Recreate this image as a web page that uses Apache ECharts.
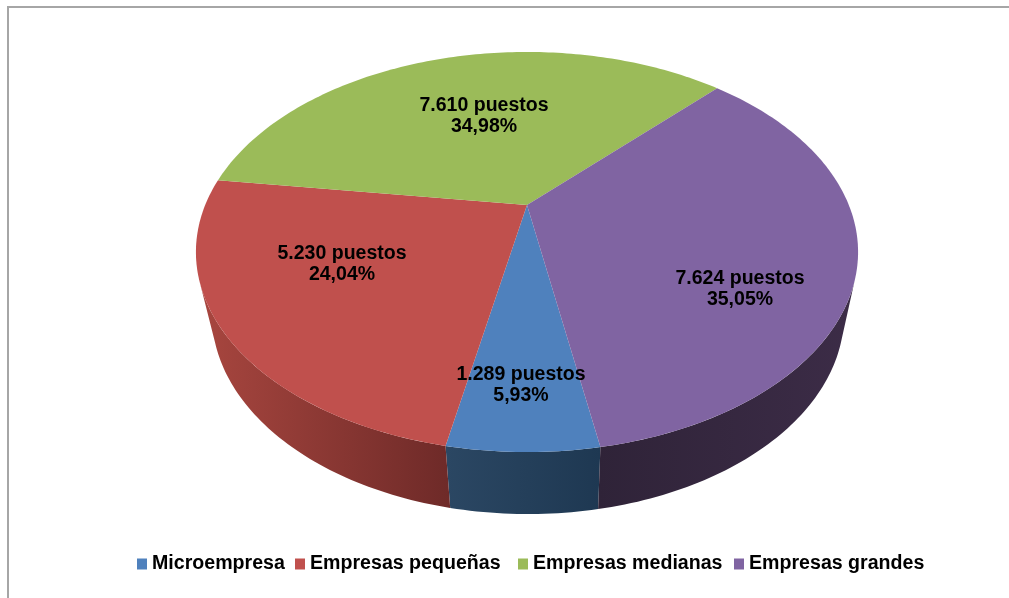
<!DOCTYPE html>
<html>
<head>
<meta charset="utf-8">
<style>
  html, body { margin: 0; padding: 0; background: #fff; }
  #chart { width: 1009px; height: 598px; }
</style>
<script src="https://cdn.jsdelivr.net/npm/echarts@6/dist/echarts.min.js"></script>
</head>
<body>
<div id="chart"></div>
<script>
// datos
const categorias = ['Microempresa', 'Empresas pequeñas', 'Empresas medianas', 'Empresas grandes'];
const puestos = [1289, 5230, 7610, 7624];
const puestosTxt = ['1.289 puestos', '5.230 puestos', '7.610 puestos', '7.624 puestos'];
const porcentajes = ['5,93%', '24,04%', '34,98%', '35,05%'];

// estilo
const colores = ['#4F81BD', '#C0504D', '#9BBB59', '#8064A2'];
const paredes = [['#2B4763', '#1E3852'], ['#A8463F', '#6E2A28'], ['#5C7034', '#5C7034'], ['#2F2338', '#3C2C47']];
const etiquetas = [[521, 385], [342, 264], [484, 116], [740, 289]];
const leyendaX = [132, 290, 513, 729];
const FUENTE = 'bold 19.5px "Liberation Sans", Arial, sans-serif';

// proyeccion del disco 3D (como el pie 3D de Excel)
const CX = 527, CY = 205, A = 321.8, B = 189, P = 0.235;
const ALTO = 62, ESCALA_BASE = 0.955, DESPLAZA_BASE = 1, VISIBLE = 68.5, INICIO = -10.1;

const total = puestos.reduce(function (a, b) { return a + b; }, 0);
let acum = 0;
const rangos = puestos.map(function (v) {
  const ini = INICIO + acum / total * 360;
  acum += v;
  return [ini, INICIO + acum / total * 360];
});

// theta: grados desde abajo, en sentido horario
function punto(theta) {
  const t = theta * Math.PI / 180;
  const s = Math.cos(t), w = 1 - P * s;
  return [CX - A * Math.sin(t) / w, CY + B * s / w];
}
function base(p) { return [CX + DESPLAZA_BASE + (p[0] - CX) * ESCALA_BASE, p[1] + ALTO]; }
function arco(a, b) {
  const n = Math.max(2, Math.ceil(Math.abs(b - a)));
  const pts = [];
  for (let i = 0; i <= n; i++) pts.push(punto(a + (b - a) * i / n));
  return pts;
}

// pared lateral visible de cada porcion
function renderPared(params) {
  const i = params.dataIndex;
  let a = rangos[i][0], b = rangos[i][1];
  if (a > 180) { a -= 360; b -= 360; }
  a = Math.max(a, -VISIBLE);
  b = Math.min(b, VISIBLE);
  if (b <= a) return null;
  const borde = arco(a, b);
  const abajo = borde.map(base).reverse();
  // el gradiente va de izquierda a derecha en pantalla
  return {
    type: 'polygon',
    shape: { points: borde.concat(abajo) },
    style: {
      fill: new echarts.graphic.LinearGradient(0, 0, 1, 0, [
        { offset: 0, color: paredes[i][0] },
        { offset: 1, color: paredes[i][1] }
      ])
    }
  };
}

function renderTapa(params, api) {
  const i = params.seriesIndex - 1;
  const pts = [[CX, CY]].concat(arco(rangos[i][0], rangos[i][1]));
  return {
    type: 'group',
    children: [
      { type: 'polygon', shape: { points: pts }, style: { fill: colores[i] } },
      {
        type: 'text',
        z2: 10,
        style: {
          x: etiquetas[i][0],
          y: etiquetas[i][1],
          text: puestosTxt[i] + '\n' + porcentajes[i],
          font: FUENTE,
          lineHeight: 21.5,
          fill: '#000',
          align: 'center',
          verticalAlign: 'middle'
        }
      }
    ]
  };
}

const series = [{
  type: 'custom',
  name: 'paredes',
  coordinateSystem: 'none',
  z: 1,
  silent: true,
  renderItem: renderPared,
  data: puestos
}];
categorias.forEach(function (c, i) {
  series.push({
    type: 'custom',
    name: c,
    coordinateSystem: 'none',
    z: 2,
    silent: true,
    itemStyle: { color: colores[i] },
    renderItem: renderTapa,
    data: [puestos[i]]
  });
});

// una leyenda por categoria: los huecos del original no son regulares
const leyendas = categorias.map(function (c, i) {
  return {
    data: [c],
    left: leyendaX[i],
    top: 549,
    icon: 'rect',
    itemWidth: 10,
    itemHeight: 11,
    textStyle: {
      color: '#000',
      fontFamily: '"Liberation Sans", Arial, sans-serif',
      fontWeight: 'bold',
      fontSize: 19.6
    }
  };
});

const chart = echarts.init(document.getElementById('chart'));
chart.setOption({
  animation: false,
  backgroundColor: '#fff',
  legend: leyendas,
  graphic: [{
    type: 'rect',
    silent: true,
    shape: { x: 8, y: 7, width: 1100, height: 700 },
    style: { fill: 'none', stroke: '#A6A6A6', lineWidth: 2 }
  }],
  series: series
});
</script>
</body>
</html>
